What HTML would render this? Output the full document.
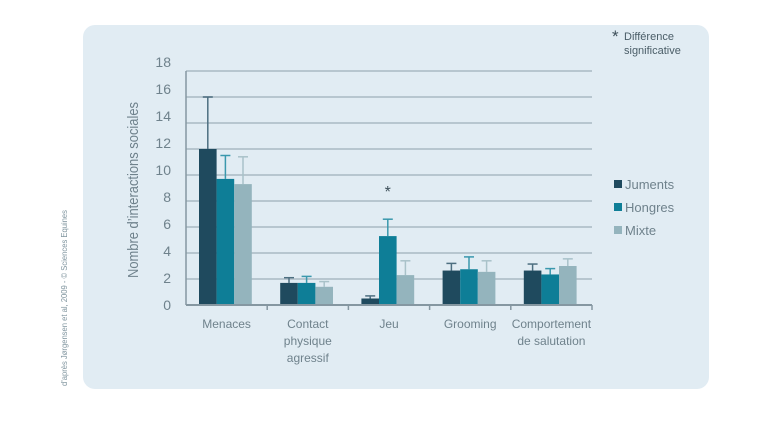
<!DOCTYPE html>
<html><head><meta charset="utf-8"><style>
html,body{margin:0;padding:0;background:#fff;}
svg{display:block;font-family:"Liberation Sans",sans-serif;}
</style></head><body>
<svg width="768" height="426" viewBox="0 0 768 426">
<rect x="83" y="25" width="626" height="364" rx="12" fill="#e1ecf3"/>
<text transform="translate(67,386) rotate(-90)" font-size="8" fill="#7f949e" textLength="176" lengthAdjust="spacingAndGlyphs">d'après Jørgensen  et al, 2009 - © Sciences Equines</text>
<g id="grid"></g>
<g id="bars"></g>
<g id="axis"></g>
<text transform="translate(138,190) rotate(-90)" text-anchor="middle" font-size="15" fill="#6f828c" textLength="176" lengthAdjust="spacingAndGlyphs">Nombre d’interactions sociales</text>
<text x="612" y="42" font-size="17" fill="#3d4f59">*</text>
<text x="624" y="40" font-size="11" fill="#4a5d67">Différence</text>
<text x="624" y="54" font-size="11" fill="#4a5d67">significative</text>
<g id="legend"></g>
</svg>
<script>
const categories=[["Menaces"],["Contact","physique","agressif"],["Jeu"],["Grooming"],["Comportement","de salutation"]];
const seriesNames=["Juments","Hongres","Mixte"];
const juments=[12,1.7,0.5,2.65,2.65];
const jumentsErr=[16,2.1,0.7,3.2,3.15];
const hongres=[9.7,1.7,5.3,2.75,2.35];
const hongresErr=[11.5,2.2,6.6,3.7,2.8];
const mixte=[9.3,1.4,2.3,2.55,3.0];
const mixteErr=[11.4,1.8,3.4,3.4,3.55];
const yTicks=[0,2,4,6,8,10,12,14,16,18];
const significant=[2];
const colors=["#1f4a5e","#0e7e97","#94b4bd"];
const errColors=["#4d6f80","#3a98ad","#a9c2c9"];
const NS="http://www.w3.org/2000/svg";
const x0=186,x1=592,y0=305,unit=13;
const groupW=(x1-x0)/categories.length,barW=17.6,off=13;
const Y=v=>y0-v*unit;
const X=(g,s)=>x0+g*groupW+off+s*barW;
function mk(tag,attrs,parent){const e=document.createElementNS(NS,tag);for(const k in attrs)e.setAttribute(k,attrs[k]);document.getElementById(parent).appendChild(e);return e;}
yTicks.forEach((t,i)=>{
 if(t>0){const l=mk("line",{x1:x0,x2:x1,y1:Y(t),y2:Y(t),stroke:"#b7c6cf","stroke-width":2},"grid");
 
 }
 const tx=mk("text",{x:171,y:y0-i*27+5,"text-anchor":"end","font-size":14,fill:"#6f828c"},"axis");
 tx.textContent=t;
 
 
});
const ax=mk("line",{x1:x0,x2:x1,y1:y0,y2:y0,stroke:"#8597a1","stroke-width":2},"axis");


const yax=mk("line",{x1:x0,x2:x0,y1:Y(18),y2:y0,stroke:"#8597a1","stroke-width":1.5},"axis");


const vals=[juments,hongres,mixte],errs=[jumentsErr,hongresErr,mixteErr];
categories.forEach((c,g)=>{
 const tk=mk("line",{x1:x0+(g+1)*groupW,x2:x0+(g+1)*groupW,y1:y0,y2:y0+5,stroke:"#8597a1","stroke-width":1.5},"axis");
 
 
 c.forEach((line,li)=>{
  const t=mk("text",{x:x0+g*groupW+groupW/2,y:328+li*17,"text-anchor":"middle","font-size":12,fill:"#6f828c"},"axis");
  t.textContent=line;
  
  
 });
 for(let s=0;s<3;s++){
  const v=vals[s][g],e=errs[s][g],bx=X(g,s),cx=bx+barW/2;
  const el=mk("line",{x1:cx,x2:cx,y1:Y(e),y2:Y(v),stroke:errColors[s],"stroke-width":1.5},"bars");
  
  
  const ec=mk("line",{x1:cx-5,x2:cx+5,y1:Y(e),y2:Y(e),stroke:errColors[s],"stroke-width":1.5},"bars");
  
  
  const r=mk("rect",{x:bx,y:Y(v),width:barW,height:v*unit,fill:colors[s]},"bars");
  
  
 }
});
significant.forEach(g=>{
 const st=mk("text",{x:X(g,1)+barW/2,y:Y(8)-4,"text-anchor":"middle","font-size":16,fill:"#3d4f59"},"axis");
 st.textContent="*";
 
 
});
seriesNames.forEach((n,i)=>{
 const r=mk("rect",{x:614,y:180+i*23,width:8,height:8,fill:colors[i]},"legend");
 
 
 const t=mk("text",{x:625,y:189+i*23,"font-size":13,fill:"#6f828c"},"legend");
 t.textContent=n;
 
 
});
</script>
</body></html>
